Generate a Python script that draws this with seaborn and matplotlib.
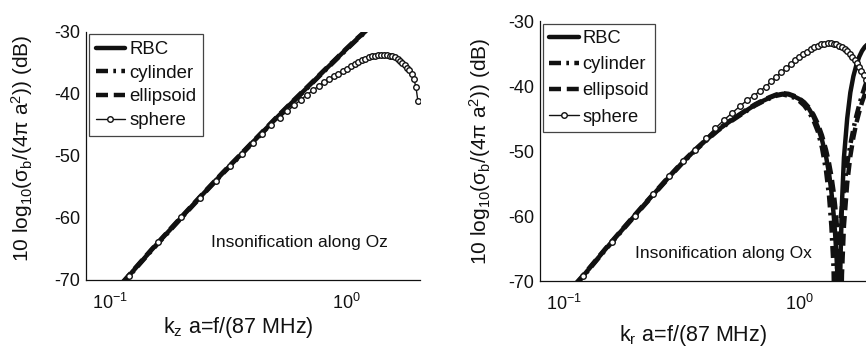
import matplotlib
matplotlib.use("Agg")
import matplotlib.pyplot as plt
from matplotlib.ticker import LogLocator, NullFormatter, LogFormatterSciNotation
import seaborn as sns
import pandas as pd

# ---------------- data: insonification along Oz (left) ----------------
x_oz = [0.08, 0.10, 0.12, 0.15, 0.20, 0.25, 0.30, 0.35, 0.40, 0.50, 0.60,
        0.70, 0.80, 0.90, 1.00, 1.10, 1.20, 1.30]
rbc_oz = [-76.9, -72.7, -69.3, -65.1, -59.9, -55.9, -52.7, -50.1, -47.8, -44.0,
          -41.0, -38.5, -36.3, -34.4, -32.7, -31.2, -29.9, -28.6]
cyl_oz = [-77.0, -72.8, -69.4, -65.2, -60.0, -56.0, -52.8, -50.2, -47.9, -44.1,
          -41.1, -38.6, -36.4, -34.5, -32.8, -31.3, -30.0, -28.7]
ell_oz = [-76.8, -72.6, -69.2, -65.0, -59.8, -55.8, -52.6, -50.0, -47.7, -43.9,
          -40.9, -38.4, -36.2, -34.3, -32.6, -31.1, -29.8, -28.5]

# sphere samples (shared frequency grid for both panels)
x_sph = [0.08, 0.12, 0.16, 0.20, 0.24, 0.28, 0.32, 0.36, 0.40, 0.44, 0.48,
         0.52, 0.56, 0.60, 0.64, 0.68, 0.72, 0.76, 0.80, 0.84, 0.88, 0.92,
         0.96, 1.00, 1.04, 1.08, 1.12, 1.16, 1.20, 1.24, 1.28, 1.32, 1.36,
         1.40, 1.44, 1.48, 1.52, 1.56, 1.60, 1.64, 1.68, 1.72, 1.76, 1.80,
         1.84, 1.88, 1.92, 1.96, 2.00]
sph_oz = [-76.9, -69.3, -63.9, -59.9, -56.7, -54.0, -51.6, -49.6, -47.9, -46.4,
          -45.0, -43.8, -42.8, -41.8, -40.9, -40.1, -39.4, -38.7, -38.1, -37.6,
          -37.1, -36.7, -36.3, -35.9, -35.5, -35.1, -34.8, -34.5, -34.3, -34.1,
          -33.95, -33.85, -33.75, -33.7, -33.7, -33.75, -33.8, -33.95, -34.1,
          -34.35, -34.65, -35.0, -35.4, -35.8, -36.2, -36.8, -37.6, -38.8, -41.2]

# ---------------- data: insonification along Ox (right) ----------------
x_ox = [0.08, 0.10, 0.12, 0.15, 0.18, 0.22, 0.27, 0.32, 0.36, 0.40, 0.45,
        0.50, 0.55, 0.60, 0.65, 0.70, 0.75, 0.80, 0.85, 0.90, 0.95, 1.00,
        1.05, 1.10, 1.15, 1.20, 1.25, 1.30, 1.34, 1.37, 1.40, 1.42, 1.44,
        1.46, 1.47, 1.48, 1.49, 1.50, 1.52, 1.55, 1.60, 1.65, 1.70, 1.75,
        1.80, 1.85, 1.90, 1.95, 2.00, 2.05]
rbc_ox = [-76.5, -72.5, -69.3, -65.1, -61.8, -58.2, -54.6, -51.7, -49.9, -48.4,
          -46.8, -45.6, -44.6, -43.7, -42.9, -42.3, -41.8, -41.4, -41.2, -41.3,
          -41.6, -42.0, -42.6, -43.5, -44.7, -46.3, -48.3, -50.8, -53.5, -56.2,
          -59.6, -62.5, -66.0, -70.5, -74.0, -80.0, -72.0, -66.0, -58.0, -51.0,
          -45.0, -41.0, -38.5, -36.8, -35.5, -34.6, -34.0, -33.6, -33.3, -33.1]
cyl_ox = [-76.6, -72.6, -69.4, -65.2, -61.9, -58.3, -54.7, -51.8, -50.0, -48.5,
          -46.9, -45.7, -44.7, -43.8, -43.0, -42.4, -41.9, -41.5, -41.3, -41.5,
          -41.8, -42.3, -43.0, -44.0, -45.3, -47.0, -49.5, -53.0, -57.0, -61.5,
          -68.0, -80.0, -70.0, -65.5, -64.0, -62.7, -61.5, -60.4, -58.5, -55.8,
          -52.0, -49.0, -46.6, -44.6, -42.9, -41.4, -40.1, -39.0, -38.0, -37.2]
ell_ox = [-76.4, -72.4, -69.2, -65.0, -61.7, -58.1, -54.5, -51.6, -49.8, -48.3,
          -46.7, -45.5, -44.5, -43.6, -42.8, -42.2, -41.7, -41.3, -41.1, -41.2,
          -41.5, -41.9, -42.5, -43.3, -44.4, -45.8, -47.6, -49.8, -51.9, -53.8,
          -56.2, -58.2, -60.6, -63.8, -66.0, -69.0, -73.5, -80.0, -69.0, -61.5,
          -55.0, -50.8, -47.9, -45.7, -44.0, -42.5, -41.3, -40.2, -39.3, -38.5]
sph_ox = [-76.5, -69.3, -64.0, -60.0, -56.6, -53.9, -51.6, -49.8, -48.0, -46.5,
          -45.2, -44.1, -43.1, -42.2, -41.5, -40.8, -40.1, -39.3, -38.6, -37.9,
          -37.2, -36.6, -36.0, -35.5, -35.1, -34.7, -34.3, -34.0, -33.8, -33.6,
          -33.5, -33.4, -33.4, -33.5, -33.6, -33.8, -34.0, -34.3, -34.6, -35.0,
          -35.5, -36.0, -36.5, -37.1, -37.7, -38.3, -39.0, -39.8, -40.7]

series_names = ["RBC", "cylinder", "ellipsoid", "sphere"]
y_ticks = [-70, -60, -50, -40, -30]

# ---------------- style ----------------
sns.set_style("white")
plt.rcParams["font.family"] = ["Liberation Sans", "DejaVu Sans"]
plt.rcParams["mathtext.fontset"] = "custom"
plt.rcParams["mathtext.rm"] = "Liberation Sans"
plt.rcParams["mathtext.it"] = "Liberation Sans:italic"
plt.rcParams["mathtext.bf"] = "Liberation Sans:bold"
plt.rcParams["axes.unicode_minus"] = False

INK = "#111111"
LW = 3.2
styles = {
    "RBC": dict(linestyle="-", linewidth=LW),
    "cylinder": dict(linestyle=(0, (2.7, 1.2, 0.6, 1.2)), linewidth=LW),
    "ellipsoid": dict(linestyle=(0, (2.7, 1.3)), linewidth=LW),
}

fig = plt.figure(figsize=(8.66, 3.49), dpi=100)
ax1 = fig.add_axes([86 / 866, 69 / 349, 334 / 866, 248 / 349])
ax2 = fig.add_axes([540 / 866, 68 / 349, 332 / 866, 260 / 349])


def draw_panel(ax, x_lines, rbc, cyl, ell, sph):
    for name, vals in zip(series_names[:3], [rbc, cyl, ell]):
        df = pd.DataFrame({"ka": x_lines, "dB": vals})
        sns.lineplot(data=df, x="ka", y="dB", ax=ax, color=INK, label=name,
                     errorbar=None, **styles[name])
    dfs = pd.DataFrame({"ka": x_sph, "dB": sph})
    sns.lineplot(data=dfs, x="ka", y="dB", ax=ax, color=INK, label="sphere",
                 errorbar=None, linewidth=1.0, marker="o", markersize=4.0,
                 markerfacecolor="white", markeredgecolor=INK,
                 markeredgewidth=1.0)
    ax.set_xscale("log")
    ax.set_xlim(0.079, 2.04)
    ax.set_ylim(-70, -30)
    ax.set_yticks(y_ticks)
    ax.xaxis.set_major_locator(LogLocator(base=10))
    ax.xaxis.set_major_formatter(LogFormatterSciNotation())
    ax.xaxis.set_minor_locator(LogLocator(base=10, subs=range(2, 10)))
    ax.xaxis.set_minor_formatter(NullFormatter())
    ax.tick_params(axis="both", which="major", direction="in", length=4,
                   width=0.8, colors=INK, labelsize=13)
    ax.tick_params(axis="x", which="major", pad=9)
    ax.tick_params(axis="y", which="major", pad=4)
    ax.tick_params(axis="x", which="minor", direction="in", length=2.5,
                   width=0.8, colors=INK)
    sns.despine(ax=ax)
    for side in ("left", "bottom"):
        ax.spines[side].set_color(INK)
        ax.spines[side].set_linewidth(0.9)
    ax.grid(False)


draw_panel(ax1, x_oz, rbc_oz, cyl_oz, ell_oz, sph_oz)
draw_panel(ax2, x_ox, rbc_ox, cyl_ox, ell_ox, sph_ox)

ylab = "10 log$_{10}$(σ$_\\mathrm{b}$/(4π a$^2$)) (dB)"
ax1.set_ylabel(ylab, fontsize=15, color=INK, va="center")
ax1.yaxis.set_label_coords(-0.19, 0.53)
ax2.set_ylabel(ylab, fontsize=15, color=INK, va="center")
ax2.yaxis.set_label_coords(-0.18, 0.50)

ax1.set_xlabel("k$_\\mathrm{z}$ a=f/(87 MHz)", fontsize=15.5, color=INK,
               va="center")
ax1.xaxis.set_label_coords(0.455, -0.19)
ax2.set_xlabel("k$_\\mathrm{r}$ a=f/(87 MHz)", fontsize=15.5, color=INK,
               va="center")
ax2.xaxis.set_label_coords(0.46, -0.21)

ax1.text(0.63, -64.0, "Insonification along Oz", ha="center", va="center",
         fontsize=12.5, color=INK)
ax2.text(0.477, -65.7, "Insonification along Ox", ha="center", va="center",
         fontsize=12.5, color=INK)

for ax, fs, ls in ((ax1, 13.4, 0.36), (ax2, 13.2, 0.5)):
    leg = ax.legend(loc="upper left", bbox_to_anchor=(0.009, 0.99),
                    borderaxespad=0, fontsize=fs, handlelength=1.6,
                    handletextpad=0.2, labelspacing=ls, borderpad=0.35,
                    fancybox=False, framealpha=1, edgecolor="#444444")
    leg.get_frame().set_linewidth(0.9)
    for t in leg.get_texts():
        t.set_color(INK)

fig.savefig("out.png", dpi=100)
